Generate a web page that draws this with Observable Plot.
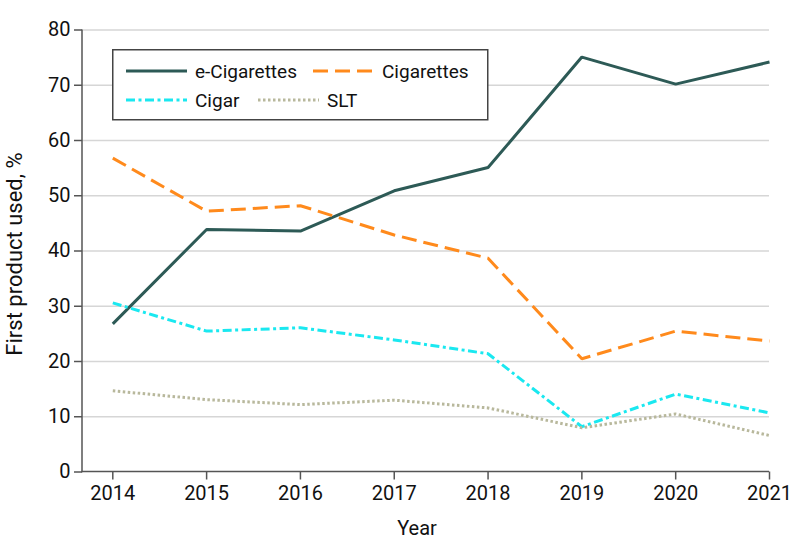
<!DOCTYPE html>
<html><head><meta charset="utf-8">
<script src="https://cdn.jsdelivr.net/npm/d3@7"></script>
<script src="https://cdn.jsdelivr.net/npm/@observablehq/plot@0.6"></script>
<style>
body{margin:0;background:#fff;}
#wrap{position:relative;width:794px;height:559px;font-family:Roboto, sans-serif;color:#111;}
#legend{position:absolute;left:112px;top:49px;}
</style></head><body><div id="wrap"></div>
<script>
const years = [2014, 2015, 2016, 2017, 2018, 2019, 2020, 2021];
const seriesNames = ["e-Cigarettes", "Cigarettes", "Cigar", "SLT"];
const eCigarettes = [26.8, 43.9, 43.6, 50.9, 55.1, 75.1, 70.2, 74.2];
const cigarettes  = [56.8, 47.2, 48.2, 42.9, 38.7, 20.5, 25.5, 23.7];
const cigar       = [30.6, 25.5, 26.1, 23.9, 21.4, 8.2, 14.1, 10.7];
const slt         = [14.7, 13.1, 12.2, 13.0, 11.6, 8.0, 10.5, 6.6];
const yTicks = [0, 10, 20, 30, 40, 50, 60, 70, 80];
const xLabel = "Year";
const yLabel = "First product used, %";

const colors = ["#2d5a56", "#ff8a1c", "#1ae8f0", "#b8b89c"];
const dashes = [null, "15,7", "9,3.5,3,3.5", "2.5,2.5"];
const allValues = [eCigarettes, cigarettes, cigar, slt];

const data = seriesNames.flatMap((name, s) =>
  years.map((year, i) => ({series: name, year, value: allValues[s][i]})));

const font = "Roboto, sans-serif";

function frameLines(index, scales, values, dims) {
  const g = d3.create("svg:g");
  const x0 = dims.marginLeft, x1 = dims.width - dims.marginRight;
  const y0 = dims.marginTop, y1 = dims.height - dims.marginBottom;
  g.append("line").attr("x1", x0).attr("x2", x0).attr("y1", y0).attr("y2", y1 + 0.75)
    .attr("stroke", "#555").attr("stroke-width", 1.5);
  g.append("line").attr("x1", x0 - 0.75).attr("x2", x1).attr("y1", y1).attr("y2", y1)
    .attr("stroke", "#555").attr("stroke-width", 1.5);
  g.append("text").attr("x", 417).attr("y", 535).attr("text-anchor", "middle")
    .attr("font-size", 20).attr("font-family", font).attr("fill", "#111").text(xLabel);
  g.append("text").attr("transform", "translate(22,254) rotate(-90)").attr("text-anchor", "middle")
    .attr("font-size", 22).attr("font-family", font).attr("fill", "#111").text(yLabel);
  return g.node();
}

const chart = Plot.plot({
  width: 794,
  height: 559,
  marginLeft: 82,
  marginRight: 25,
  marginTop: 29.5,
  marginBottom: 87.5,
  insetLeft: 30.3,
  style: {fontFamily: font, background: "#fff", overflow: "visible"},
  x: {domain: [2014, 2021], ticks: years, tickFormat: d => String(d)},
  y: {domain: [0, 80], ticks: yTicks},
  marks: [
    Plot.ruleY(yTicks.filter(d => d > 0), {stroke: "#d6d6d6", strokeWidth: 1.5}),
    Plot.axisY(yTicks, {anchor: "left", tickSize: 8, tickPadding: 4, fontSize: 20, stroke: "#555", strokeWidth: 1.5, fill: "#111", label: null}),
    Plot.axisX(years, {anchor: "bottom", tickSize: 8, tickPadding: 6, fontSize: 20, stroke: "#555", strokeWidth: 1.5, fill: "#111", label: null, tickFormat: d => String(d)}),
    frameLines,
    ...seriesNames.map((name, s) => Plot.line(data.filter(d => d.series === name), {
      x: "year", y: "value", stroke: colors[s], strokeWidth: 3,
      strokeDasharray: dashes[s], strokeLinejoin: "miter", strokeLinecap: "butt"
    }))
  ]
});

const wrap = document.getElementById("wrap");
wrap.appendChild(chart);

// Legend
const lg = d3.select(wrap).append("svg").attr("id", "legend")
  .attr("width", 377).attr("height", 72);
lg.append("rect").attr("x", 0.75).attr("y", 0.75).attr("width", 375).attr("height", 70)
  .attr("fill", "#fff").attr("stroke", "#444").attr("stroke-width", 1.5);
const legendPos = [[14, 22], [201, 22], [14, 51], [146, 51]];
seriesNames.forEach((name, s) => {
  const [lx, ly] = legendPos[s];
  lg.append("line").attr("x1", lx).attr("x2", lx + 61).attr("y1", ly).attr("y2", ly)
    .attr("stroke", colors[s]).attr("stroke-width", 3).attr("stroke-dasharray", dashes[s]);
  lg.append("text").attr("x", lx + 69).attr("y", ly + 6.5).attr("font-size", 19)
    .attr("font-family", font).attr("fill", "#111").text(name);
});
</script></body></html>
